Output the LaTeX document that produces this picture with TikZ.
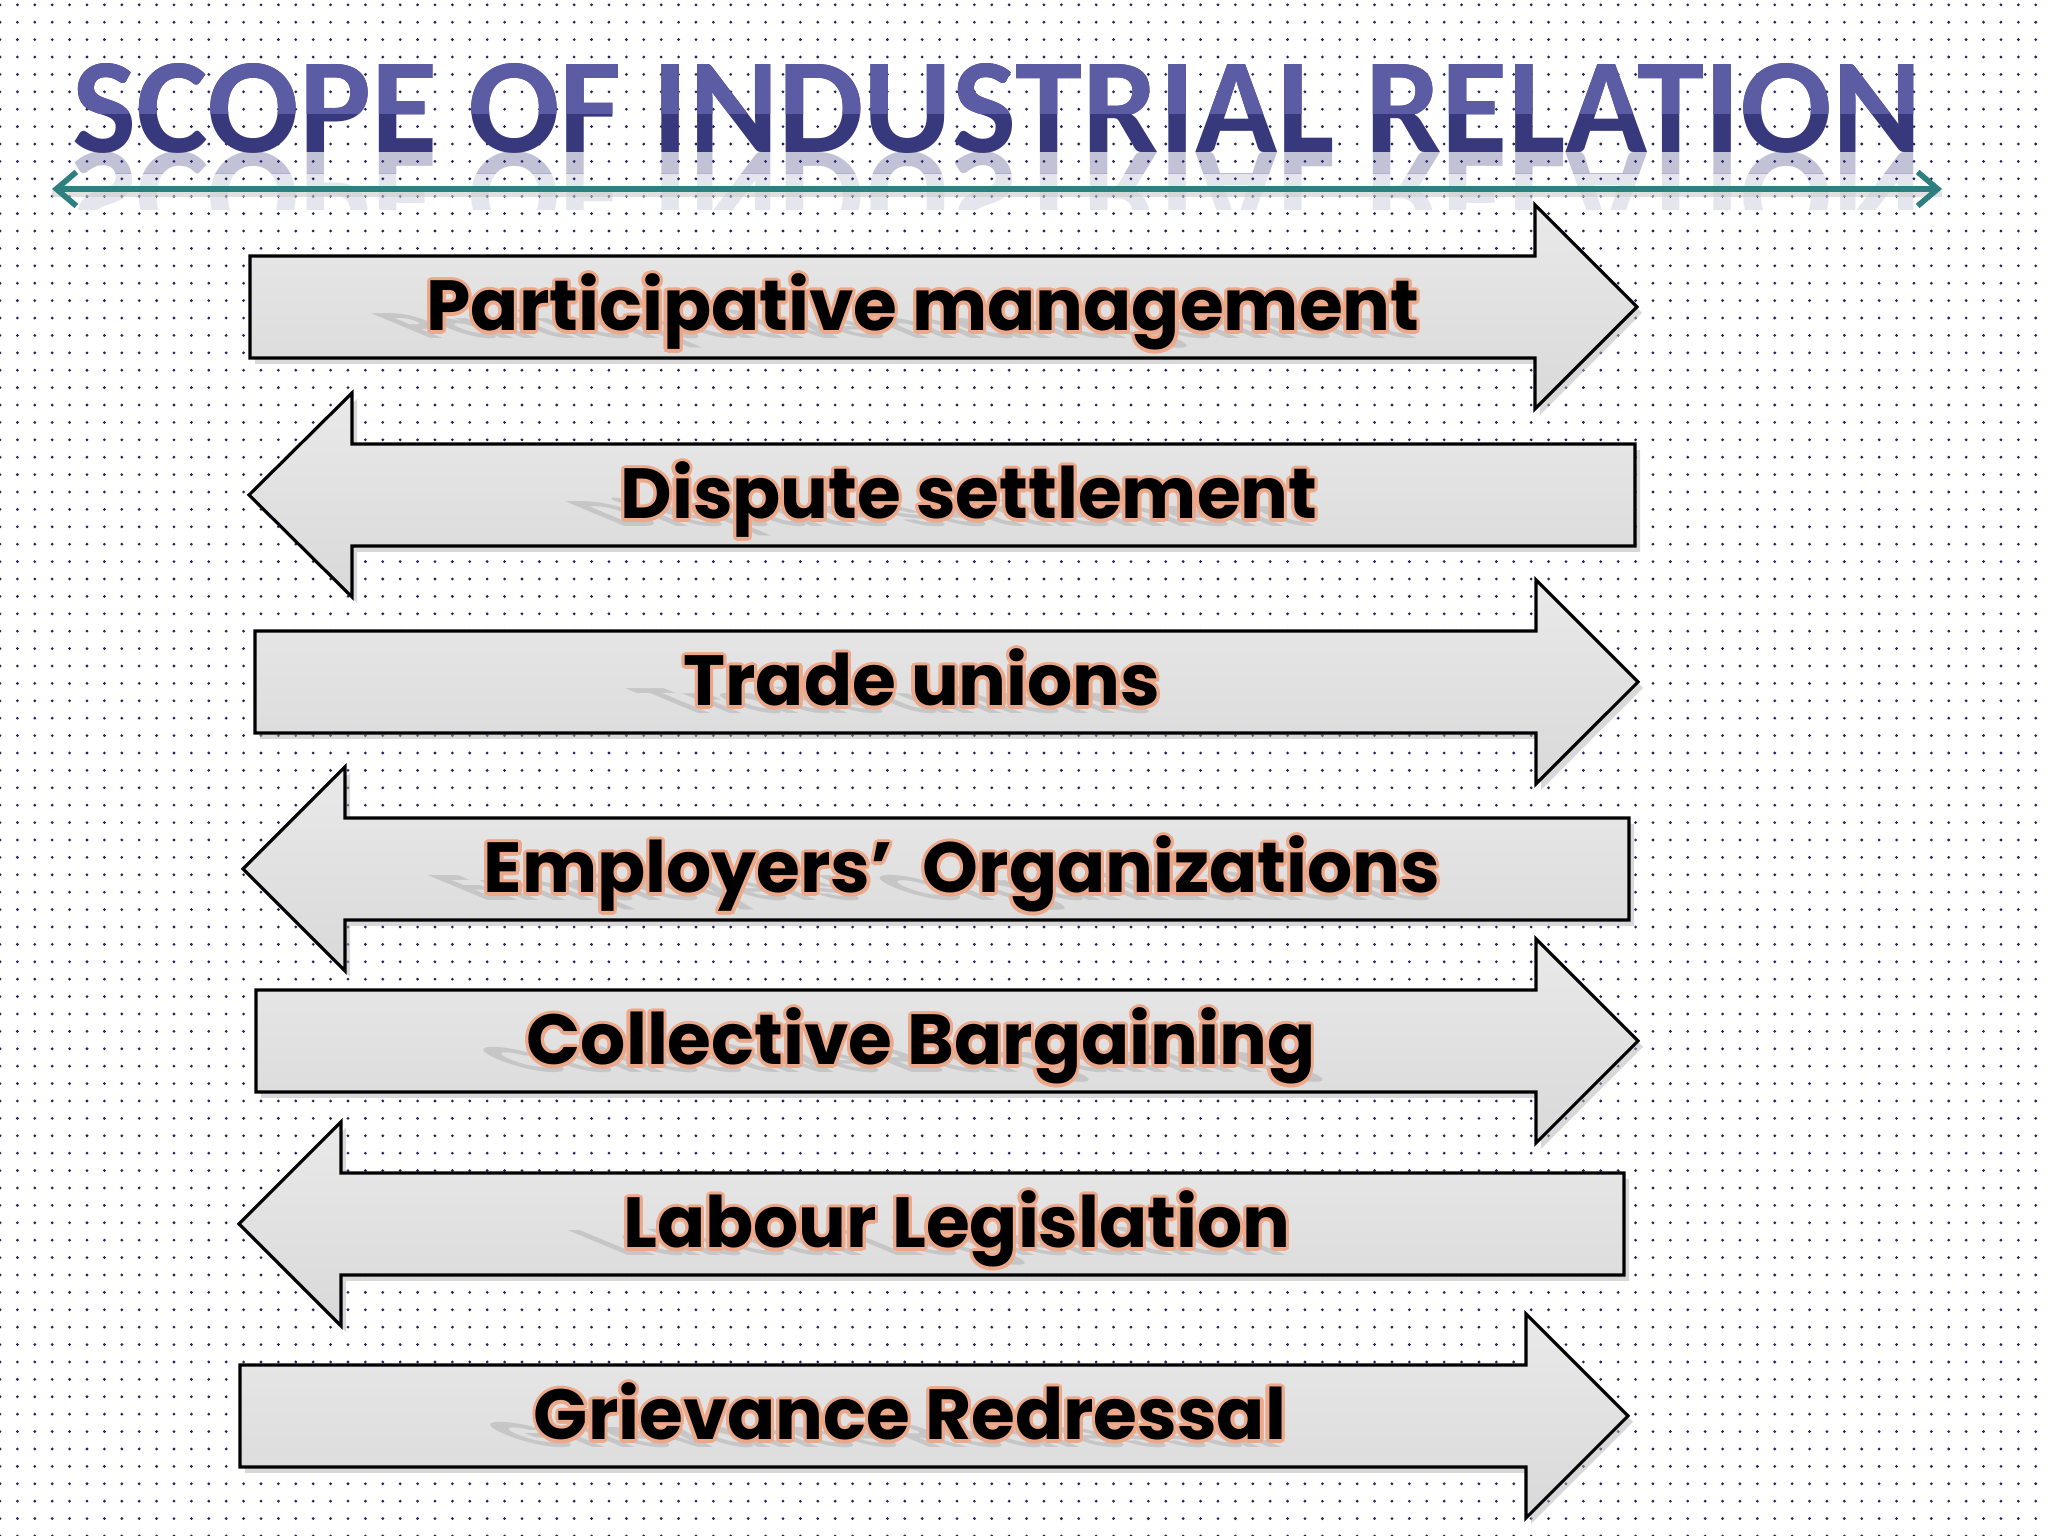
\documentclass[tikz,border=0pt]{standalone}
\usepackage{fontspec}
\setmainfont{Poppins}
\newfontfamily\titlefont{Carlito}
\usepackage[copies]{contour}
\contourlength{0.9pt}
\usetikzlibrary{arrows.meta,shadows,patterns.meta}

\definecolor{dotblue}{RGB}{36,36,100}
\definecolor{titleblue}{RGB}{56,56,124}
\definecolor{titlelight}{RGB}{92,92,164}
\definecolor{lineteal}{RGB}{46,128,128}
\definecolor{glow}{RGB}{236,168,136}

\tikzset{
  boxarrow/.style={draw=black, line width=0.9pt, line join=miter,
    top color=gray!17, bottom color=gray!30,
    drop shadow={shadow xshift=0.05cm, shadow yshift=-0.06cm, fill=gray!60, opacity=0.5}},
  lbl/.style={anchor=base, inner sep=0pt, font=\fontsize{20.2}{24}\selectfont\bfseries},
  lblshadow/.style={lbl, text=gray!60, text opacity=0.55, yscale=0.5, xslant=-1.2, transform shape},
  ttl/.style={anchor=base, inner sep=0pt, text=titleblue,
    font=\titlefont\fontsize{38.6}{44}\selectfont\bfseries},
}

\begin{document}
\begin{tikzpicture}
      \useasboundingbox (0,0) rectangle (20.48,15.36);
      \fill[white] (0,0) rectangle (20.48,15.36);
      \fill[pattern={Dots[distance=0.174cm, radius=0.44pt]}, pattern color=dotblue]
        (0,0) rectangle (20.48,15.36);

      % title, lighter upper half, and its reflection
      \node[ttl] (title) at (9.97,13.83) {SCOPE OF INDUSTRIAL RELATION};
      \begin{scope}
        \clip (0,14.22) rectangle (20.48,15.36);
        \node[ttl, text=titlelight] (titletop) at (9.97,13.83) {SCOPE OF INDUSTRIAL RELATION};
      \end{scope}
      \begin{scope}
        \clip (0,13.83) rectangle (20.48,13.62);
        \node[ttl, text opacity=0.3, yscale=-1, transform shape] (refl) at (9.97,13.83) {SCOPE OF INDUSTRIAL RELATION};
      \end{scope}
      \begin{scope}
        \clip (0,13.62) rectangle (20.48,13.26);
        \node[ttl, text opacity=0.13, yscale=-1, transform shape] (refl2) at (9.97,13.83) {SCOPE OF INDUSTRIAL RELATION};
      \end{scope}

      \coordinate (ll) at (0.52,13.47);
      \coordinate (lr) at (19.42,13.47);
      \draw[gray!40, line width=1.6pt, opacity=0.6] ([yshift=-0.05cm]ll) -- ([yshift=-0.05cm]lr);
      \draw[lineteal, line width=1.6pt, {Straight Barb[length=0.2cm, width=0.34cm]}-{Straight Barb[length=0.2cm, width=0.34cm]}] (ll) -- (lr);

      % arrows pointing right
      \draw[boxarrow] (2.50,11.78) -- (15.35,11.78) -- (15.35,11.27) -- (16.37,12.29)
        -- (15.35,13.31) -- (15.35,12.80) -- (2.50,12.80) -- cycle;
      \draw[boxarrow] (2.55,8.03) -- (15.36,8.03) -- (15.36,7.52) -- (16.38,8.54)
        -- (15.36,9.56) -- (15.36,9.05) -- (2.55,9.05) -- cycle;
      \draw[boxarrow] (2.56,4.44) -- (15.36,4.44) -- (15.36,3.93) -- (16.38,4.95)
        -- (15.36,5.97) -- (15.36,5.46) -- (2.56,5.46) -- cycle;
      \draw[boxarrow] (2.40,0.69) -- (15.26,0.69) -- (15.26,0.18) -- (16.28,1.20)
        -- (15.26,2.22) -- (15.26,1.71) -- (2.40,1.71) -- cycle;

      % arrows pointing left
      \draw[boxarrow] (16.35,9.90) -- (3.52,9.90) -- (3.52,9.39) -- (2.49,10.41)
        -- (3.52,11.43) -- (3.52,10.92) -- (16.35,10.92) -- cycle;
      \draw[boxarrow] (16.29,6.16) -- (3.45,6.16) -- (3.45,5.65) -- (2.43,6.67)
        -- (3.45,7.69) -- (3.45,7.18) -- (16.29,7.18) -- cycle;
      \draw[boxarrow] (16.24,2.61) -- (3.41,2.61) -- (3.41,2.10) -- (2.39,3.12)
        -- (3.41,4.14) -- (3.41,3.63) -- (16.24,3.63) -- cycle;

      % labels with their shadows
      \node[lblshadow] (s1) at (9.23,11.97) {Participative management};
      \node[lbl] (t1) at (9.23,12.05) {\contour{glow}{Participative management}};
      \node[lblshadow] (s2) at (9.69,10.09) {Dispute settlement};
      \node[lbl] (t2) at (9.69,10.17) {\contour{glow}{Dispute settlement}};
      \node[lblshadow] (s3) at (9.22,8.22) {Trade unions};
      \node[lbl] (t3) at (9.22,8.30) {\contour{glow}{Trade unions}};
      \node[lblshadow] (s4) at (9.62,6.35) {Employers’~~Organizations};
      \node[lbl] (t4) at (9.62,6.43) {\contour{glow}{Employers’~~Organizations}};
      \node[lblshadow] (s5) at (9.21,4.63) {Collective Bargaining};
      \node[lbl] (t5) at (9.21,4.71) {\contour{glow}{Collective Bargaining}};
      \node[lblshadow] (s6) at (9.57,2.80) {Labour Legislation};
      \node[lbl] (t6) at (9.57,2.88) {\contour{glow}{Labour Legislation}};
      \node[lblshadow] (s7) at (9.10,0.88) {Grievance Redressal};
      \node[lbl] (t7) at (9.10,0.96) {\contour{glow}{Grievance Redressal}};
\end{tikzpicture}
\end{document}
